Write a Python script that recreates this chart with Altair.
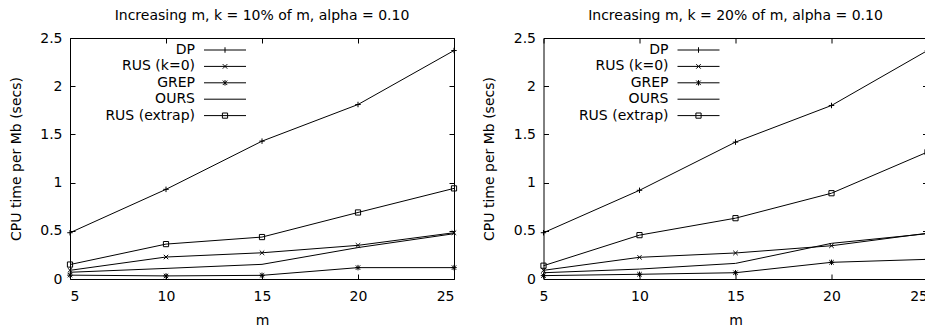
import altair as alt
import pandas as pd

# ---- data ----
M = [5, 10, 15, 20, 25]
SERIES = ["DP", "RUS (k=0)", "GREP", "OURS", "RUS (extrap)"]

# left panel: k = 10% of m
L_DP = [0.48, 0.93, 1.43, 1.81, 2.37]
L_RUS0 = [0.09, 0.228, 0.272, 0.349, 0.48]
L_GREP = [0.04, 0.032, 0.038, 0.118, 0.118]
L_OURS = [0.07, 0.11, 0.152, 0.326, 0.47]
L_RUSX = [0.15, 0.362, 0.435, 0.69, 0.94]

# right panel: k = 20% of m
R_DP = [0.48, 0.92, 1.42, 1.80, 2.37]
R_RUS0 = [0.09, 0.225, 0.27, 0.345, 0.475]
R_GREP = [0.035, 0.049, 0.065, 0.173, 0.204]
R_OURS = [0.065, 0.103, 0.162, 0.37, 0.47]
R_RUSX = [0.138, 0.455, 0.631, 0.89, 1.317]

TITLE_L = "Increasing m, k = 10% of m, alpha = 0.10"
TITLE_R = "Increasing m, k = 20% of m, alpha = 0.10"
Y_TICKS = [0, 0.5, 1, 1.5, 2, 2.5]
X_TITLE = "m"
Y_TITLE = "CPU time per Mb (secs)"

FONT = "DejaVu Sans"

# marker glyphs (unit paths)
MARKERS = {
    "DP": ("M-1,0H1M0,-1V1", 30),
    "RUS (k=0)": ("M-1,-1L1,1M-1,1L1,-1", 20),
    "GREP": ("M-1,0H1M0,-1V1M-0.8,-0.8L0.8,0.8M-0.8,0.8L0.8,-0.8", 30),
    "RUS (extrap)": ("square", 27),
}
# legend samples: line + marker
LEG_PATHS = [
    "M-4.2,0H4.2M0,-0.55V0.55",
    "M-4.2,0H4.2M-0.45,-0.45L0.45,0.45M-0.45,0.45L0.45,-0.45",
    "M-4.2,0H4.2M0,-0.55V0.55M-0.45,-0.45L0.45,0.45M-0.45,0.45L0.45,-0.45",
    "M-4.2,0H4.2",
    "M-4.2,0H4.2M-0.52,-0.52H0.52V0.52H-0.52Z",
]


def make_df(dp, rus0, grep, ours, rusx):
    rows = []
    for name, vals in zip(SERIES, [dp, rus0, grep, ours, rusx]):
        for m, v in zip(M, vals):
            rows.append({"m": m, "t": v, "series": name})
    return pd.DataFrame(rows)


TICK = 5
xscale = alt.Scale(domain=[5, 25], nice=False, zero=False)
yscale = alt.Scale(domain=[0, 2.5], nice=False)


def panel(title, df, flush_last=False):
    base = alt.Chart(df)
    xaxis_kw = dict(orient="bottom", values=M, title=X_TITLE, tickSize=TICK,
                    offset=-TICK, labelPadding=10, titlePadding=10.5)
    if flush_last:
        xaxis_kw["labelAlign"] = alt.condition(
            "datum.value == 25", alt.value("right"), alt.value("center"))
    x_main = alt.X("m:Q", scale=xscale, axis=alt.Axis(**xaxis_kw))
    y_main = alt.Y("t:Q", scale=yscale, axis=alt.Axis(
        orient="left", values=Y_TICKS, format="~g", title=Y_TITLE,
        tickSize=TICK, offset=-TICK, labelPadding=8, titlePadding=16.5))
    lines = base.mark_line(color="black", strokeWidth=1).encode(
        x=x_main, y=y_main, detail="series:N")
    layers = [lines]
    for s, (path, sz) in MARKERS.items():
        layers.append(
            base.transform_filter(alt.datum.series == s)
            .mark_point(shape=path, size=sz, filled=False, color="black",
                        strokeWidth=1, opacity=1)
            .encode(x=alt.X("m:Q", scale=xscale, axis=None),
                    y=alt.Y("t:Q", scale=yscale, axis=None))
        )
    leg = (
        base.transform_filter("datum.m < 0")
        .mark_point(filled=False, color="black", strokeWidth=1, opacity=1, size=100)
        .encode(
            x=alt.X("m:Q", scale=xscale, axis=alt.Axis(
                orient="top", values=M, labels=False, title=None,
                tickSize=TICK, offset=-TICK)),
            y=alt.Y("t:Q", scale=yscale, axis=alt.Axis(
                orient="right", values=Y_TICKS, labels=False, title=None,
                tickSize=TICK, offset=-TICK)),
            shape=alt.Shape("series:N", scale=alt.Scale(domain=SERIES, range=LEG_PATHS),
                            legend=alt.Legend(
                                title=None, orient="none", legendX=0, legendY=5,
                                labelAlign="right", labelOffset=alt.ExprRef("-37"),
                                symbolOffset=148,
                                labelFont=FONT, labelFontSize=14, labelColor="black",
                                labelLimit=0, rowPadding=2.4, symbolSize=100,
                                symbolStrokeWidth=1, symbolStrokeColor="black",
                                symbolFillColor="transparent")),
        )
    )
    layers.append(leg)
    return (
        alt.layer(*layers)
        .resolve_axis(x="independent", y="independent")
        .properties(width=384, height=241,
                    title=alt.Title(title, frame="group", anchor="middle", offset=8))
    )


left = panel(TITLE_L, make_df(L_DP, L_RUS0, L_GREP, L_OURS, L_RUSX))
right = panel(TITLE_R, make_df(R_DP, R_RUS0, R_GREP, R_OURS, R_RUSX), flush_last=True)

chart = (
    alt.hconcat(left, right, spacing=21.5)
    .resolve_scale(shape="independent")
    .resolve_legend(shape="independent")
    .properties(padding={"left": 0, "top": 0, "right": -8, "bottom": 0}, background="white")
    .configure_view(stroke="black", strokeWidth=1)
    .configure_axis(labelFont=FONT, labelFontSize=14, labelColor="black",
                    titleFont=FONT, titleFontSize=14, titleColor="black",
                    titleFontWeight="normal", tickColor="black", tickWidth=1,
                    domain=False, grid=False)
    .configure_title(font=FONT, fontSize=14, fontWeight="normal", color="black")
)

chart.save("out.html", embed_options={"renderer": "svg", "actions": False})
